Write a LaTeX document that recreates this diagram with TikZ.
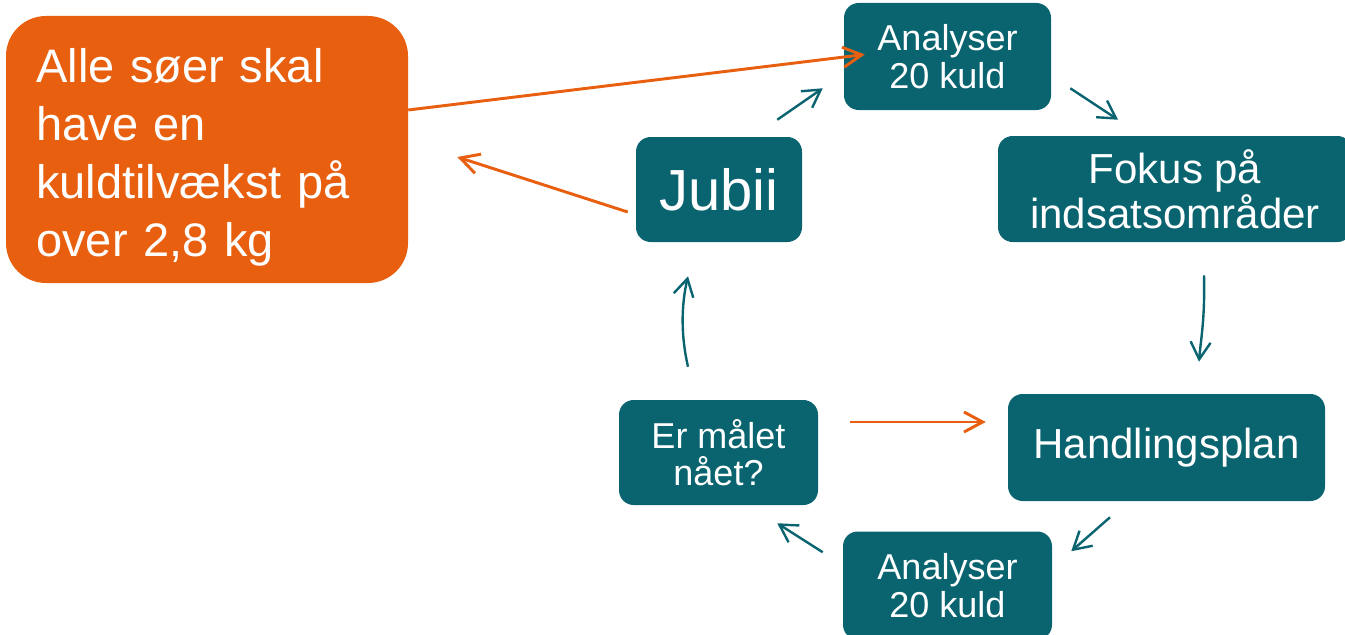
\documentclass[tikz,border=0pt]{standalone}
\usepackage{fontspec}
\setmainfont{Liberation Sans}
\usetikzlibrary{arrows.meta,calc}
\definecolor{tealbox}{HTML}{09646F}
\definecolor{orng}{HTML}{E8600F}
\begin{document}
\begin{tikzpicture}[x=0.75pt,y=-0.75pt,
  tbox/.style={fill=tealbox, rounded corners=11pt, text=white, align=center, inner sep=0pt},
  gbox/.style={fill=orng, rounded corners=30pt, inner sep=0pt},
  oarrow/.style={draw=orng, line width=2.2pt, -{Straight Barb[length=14pt,width=15pt]}},
  tarrow/.style={draw=tealbox, line width=1.8pt, -{Straight Barb[length=13pt,width=15pt]}},
  small/.style={font=\fontsize{27}{28}\selectfont},
  mid/.style={font=\fontsize{31.5}{33.75}\selectfont}]
\useasboundingbox (0,0) rectangle (1345,635);

\node[gbox, minimum width=301.5pt, minimum height=200.25pt] (goal) at (207,149.5) {};
\node[anchor=base west, inner sep=0pt, text=white, text width=250pt, align=left,
      font=\fontsize{35.25}{43.5}\selectfont] (goaltxt) at (36,83)
      {Alle søer skal\\have en\\kuldtilvækst på\\over 2,8 kg};

\node[tbox, small, minimum width=155.25pt, minimum height=80.25pt] (an1) at (947.5,56.5) {Analyser\\20 kuld};
\node[tbox, mid, minimum width=265.5pt, minimum height=79.5pt] (fokus) at (1175,189) {Fokus på\\indsatsområder};
\node[tbox, minimum width=124.5pt, minimum height=78.75pt, font=\fontsize{43.5}{45}\selectfont] (jubii) at (719,189.5) {Jubii};
\node[tbox, small, minimum width=149.25pt, minimum height=78.75pt] (maal) at (718.5,452.5) {Er målet\\nået?};
\node[tbox, mid, minimum width=237.75pt, minimum height=80.25pt] (handl) at (1166.5,447.5) {Handlingsplan};
\node[tbox, small, minimum width=156.75pt, minimum height=81pt] (an2) at (947.5,585.5) {Analyser\\20 kuld};

% orange connectors
\draw[oarrow] ($(goal.east)+(0,-39.5)$) -- ($(an1.west)+(21,-2)$);
\draw[oarrow] ($(jubii.west)+(-8,22.5)$) -- ($(goal.east)+(49,7.5)$);
\draw[oarrow] ($(maal.east)+(32,-30.5)$) -- ($(handl.west)+(-22,-25.5)$);

% teal cycle
\draw[tarrow] ($(jubii.north east)+(-25,-17)$) -- ($(an1.south west)+(-21,-22)$);
\draw[tarrow] ($(an1.south east)+(19,-22)$) -- ($(fokus.north)+(-57,-16)$);
\draw[tarrow] ($(fokus.south)+(29,33)$) .. controls +(1,45) and +(2,-25) .. ($(handl.north)+(32.5,-32)$);
\draw[tarrow] ($(handl.south)+(-56.5,16)$) -- ($(an2.north east)+(19,20)$);
\draw[tarrow] ($(an2.north west)+(-20,21)$) -- ($(maal.south east)+(-41,18)$);
\draw[tarrow] ($(maal.north)+(-30.5,-33)$) .. controls +(-7,-30) and +(-7,30) .. ($(jubii.south)+(-31,34)$);
\end{tikzpicture}
\end{document}
